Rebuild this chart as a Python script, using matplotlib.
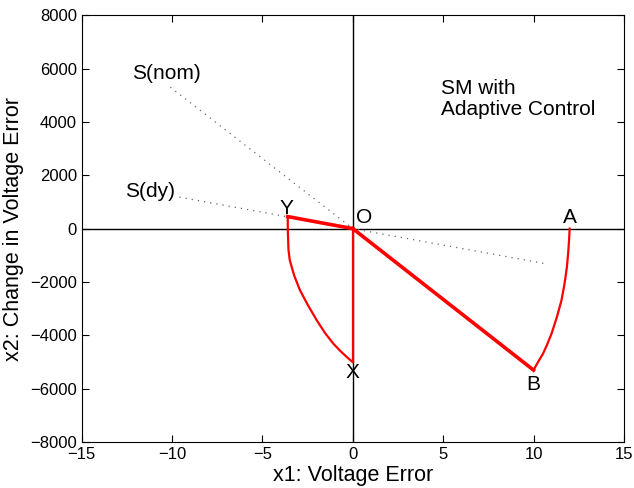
import numpy as np
import matplotlib.pyplot as plt

plt.rcParams['font.family'] = ['Liberation Sans', 'DejaVu Sans']

# trajectory A -> B (reaching phase, curved)
ab_x = [12.0, 11.97, 11.92, 11.85, 11.72, 11.55, 11.3, 11.0, 10.75, 10.53, 10.25, 10.0]
ab_y = [0, -400, -900, -1430, -2050, -2680, -3300, -3930, -4350, -4680, -5000, -5300]
# B -> O sliding along S(nom)
bo_x = [10.0, 0.0]
bo_y = [-5300, 0]
# O -> X
ox_x = [0.0, 0.0]
ox_y = [0, -5000]
# X -> Y (curved)
xy_x = [0.0, -0.1, -0.35, -0.7, -1.09, -1.55, -2.0, -2.5, -2.93, -3.25, -3.49,
        -3.56, -3.58, -3.6, -3.6]
xy_y = [-5000, -4950, -4800, -4580, -4300, -3900, -3430, -2850, -2300, -1750,
        -1180, -800, -430, 0, 450]
# Y -> O sliding along S(dy)
yo_x = [-3.6, 0.0]
yo_y = [450, 0]

# switching lines
snom_x = [-10.1, 0.0]
snom_y = [5300, 0]
sdy_x = [-9.6, 10.8]
sdy_y = [1180, -1330]

# point labels
pt_names = ['A', 'B', 'O', 'X', 'Y']
pt_x = [12.0, 10.0, 0.6, 0.0, -3.7]
pt_y = [400, -5850, 400, -5400, 750]

fig = plt.figure(figsize=(6.34, 4.88), dpi=100)
ax = fig.add_axes([0.129, 0.094, 0.855, 0.875])

ax.axhline(0, color='k', lw=1)
ax.axvline(0, color='k', lw=1)

ax.plot(snom_x, snom_y, color='0.4', lw=0.9, ls=(0, (1, 4)))
ax.plot(sdy_x, sdy_y, color='0.4', lw=0.9, ls=(0, (1, 4)))

red = '#ff0000'
ax.plot(ab_x, ab_y, color=red, lw=1.6)
ax.plot(bo_x, bo_y, color=red, lw=2.6)
ax.plot(ox_x, ox_y, color=red, lw=1.6)
ax.plot(xy_x, xy_y, color=red, lw=1.6)
ax.plot(yo_x, yo_y, color=red, lw=2.6)

for n, x, y in zip(pt_names, pt_x, pt_y):
    ax.text(x, y, n, fontsize=15, ha='center', va='center')

ax.text(-12.2, 5800, 'S(nom)', fontsize=15, va='center')
ax.text(-12.6, 1380, 'S(dy)', fontsize=15, va='center')
ax.text(4.9, 4850, 'SM with\nAdaptive Control', fontsize=15, va='center',
        ha='left', multialignment='left', linespacing=1.1)

ax.set_xlim(-15, 15)
ax.set_ylim(-8000, 8000)
ax.set_xticks(np.arange(-15, 16, 5))
ax.set_yticks(np.arange(-8000, 8001, 2000))
ax.tick_params(direction='in', top=True, right=True, labelsize=12, length=5)
ax.set_xlabel('x1: Voltage Error', fontsize=15.5, labelpad=2)
ax.set_ylabel('x2: Change in Voltage Error', fontsize=15.5, labelpad=4)

fig.savefig('out.png', dpi=100)
